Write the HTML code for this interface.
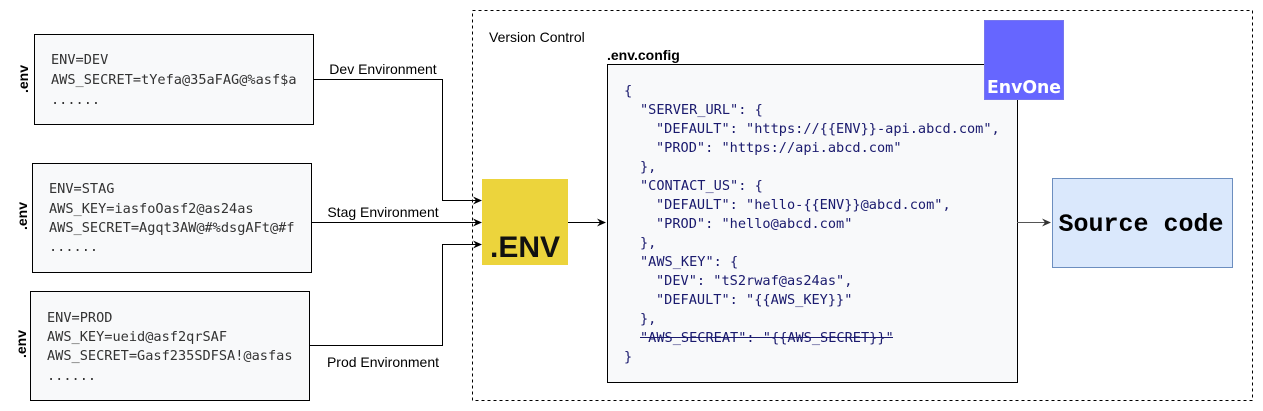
<!DOCTYPE html>
<html><head><meta charset="utf-8"><style>
html,body{margin:0;padding:0;background:#fff;}
svg{display:block;}
.m{font-family:"DejaVu Sans Mono",monospace;font-size:13.6px;fill:#333;}
.j{font-family:"DejaVu Sans Mono",monospace;font-size:13.6px;fill:#1a1a6e;}
.s{font-family:"Liberation Sans",sans-serif;font-size:14px;fill:#000;}
</style></head><body>
<svg width="1263" height="411" viewBox="0 0 1263 411" xmlns="http://www.w3.org/2000/svg">
<defs><marker id="a" markerWidth="10" markerHeight="10" refX="8" refY="5" orient="auto" markerUnits="userSpaceOnUse"><path d="M0,1 L9,5 L0,9 L3,5 z" fill="#000"/></marker>
<marker id="g" markerWidth="10" markerHeight="10" refX="8" refY="5" orient="auto" markerUnits="userSpaceOnUse"><path d="M0,1 L9,5 L0,9 L3,5 z" fill="#333"/></marker></defs>
<rect x="472.5" y="10.5" width="780" height="390" fill="none" stroke="#000" stroke-dasharray="3,3"/>
<text x="489" y="42" class="s">Version Control</text>

<rect x="34.5" y="34.5" width="279" height="90" fill="#f8f9fa" stroke="#000"/>
<text class="m" x="51" y="64">ENV=DEV</text>
<text class="m" x="51" y="84">AWS_SECRET=tYefa@35aFAG@%asf$a</text>
<text class="m" x="51" y="104">......</text>
<rect x="32.5" y="163.5" width="279" height="109" fill="#f8f9fa" stroke="#000"/>
<text class="m" x="49" y="193">ENV=STAG</text>
<text class="m" x="49" y="213">AWS_KEY=iasfoOasf2@as24as</text>
<text class="m" x="49" y="232">AWS_SECRET=Agqt3AW@#%dsgAFt@#f</text>
<text class="m" x="49" y="251">......</text>
<rect x="30.5" y="291.5" width="279" height="109" fill="#f8f9fa" stroke="#000"/>
<text class="m" x="47" y="322">ENV=PROD</text>
<text class="m" x="47" y="341">AWS_KEY=ueid@asf2qrSAF</text>
<text class="m" x="47" y="360">AWS_SECRET=Gasf235SDFSA!@asfas</text>
<text class="m" x="47" y="380">......</text>

<text class="s" font-weight="bold" transform="translate(28,79) rotate(-90)" text-anchor="middle">.env</text>
<text class="s" font-weight="bold" transform="translate(27,216) rotate(-90)" text-anchor="middle">.env</text>
<text class="s" font-weight="bold" transform="translate(26,344) rotate(-90)" text-anchor="middle">.env</text>

<polyline points="313,79.5 442.5,79.5 442.5,200.5 481,200.5" fill="none" stroke="#000" marker-end="url(#a)"/>
<line x1="311" y1="222.5" x2="481" y2="222.5" stroke="#000" marker-end="url(#a)"/>
<polyline points="309,345.5 442.5,345.5 442.5,244.5 481,244.5" fill="none" stroke="#000" marker-end="url(#a)"/>
<text class="s" x="383" y="74" text-anchor="middle">Dev Environment</text>
<text class="s" x="383" y="217" text-anchor="middle">Stag Environment</text>
<text class="s" x="383" y="367" text-anchor="middle">Prod Environment</text>

<rect x="482" y="179" width="86" height="86" fill="#ecd43c"/>
<text x="490" y="257" font-family="Liberation Sans,sans-serif" font-weight="bold" font-size="30" fill="#111">.ENV</text>
<line x1="568" y1="222.5" x2="605" y2="222.5" stroke="#000" marker-end="url(#a)"/>

<text x="607" y="60" class="s" font-weight="bold">.env.config</text>
<rect x="607.5" y="64.5" width="410" height="318" fill="#f8f9fa" stroke="#000"/>
<text class="j" x="624" y="95">{</text>
<text class="j" x="640" y="114">"SERVER_URL": {</text>
<text class="j" x="656" y="133">"DEFAULT": "https://{{ENV}}-api.abcd.com",</text>
<text class="j" x="656" y="152">"PROD": "https://api.abcd.com"</text>
<text class="j" x="640" y="171">},</text>
<text class="j" x="640" y="190">"CONTACT_US": {</text>
<text class="j" x="656" y="209">"DEFAULT": "hello-{{ENV}}@abcd.com",</text>
<text class="j" x="656" y="228">"PROD": "hello@abcd.com"</text>
<text class="j" x="640" y="247">},</text>
<text class="j" x="640" y="266">"AWS_KEY": {</text>
<text class="j" x="656" y="285">"DEV": "tS2rwaf@as24as",</text>
<text class="j" x="656" y="304">"DEFAULT": "{{AWS_KEY}}"</text>
<text class="j" x="640" y="323">},</text>
<text class="j" x="640" y="342">"AWS_SECREAT": "{{AWS_SECRET}}"</text>
<text class="j" x="624" y="361">}</text>
<line x1="640" y1="337.5" x2="893" y2="337.5" stroke="#1a1a6e"/>

<rect x="984.5" y="20.5" width="79" height="79" fill="#6666ff" stroke="#7777ee"/>
<text x="987" y="93" textLength="74" lengthAdjust="spacingAndGlyphs" font-family="DejaVu Sans,sans-serif" font-weight="bold" font-size="18" fill="#fff">EnvOne</text>

<line x1="1017" y1="222.5" x2="1050" y2="222.5" stroke="#555" marker-end="url(#g)"/>
<rect x="1052.5" y="178.5" width="180" height="89" fill="#dae8fc" stroke="#6c8ebf"/>
<text x="1141" y="231" text-anchor="middle" font-family="Liberation Mono,monospace" font-weight="bold" font-size="25" fill="#000">Source code</text>
</svg>
</body></html>
